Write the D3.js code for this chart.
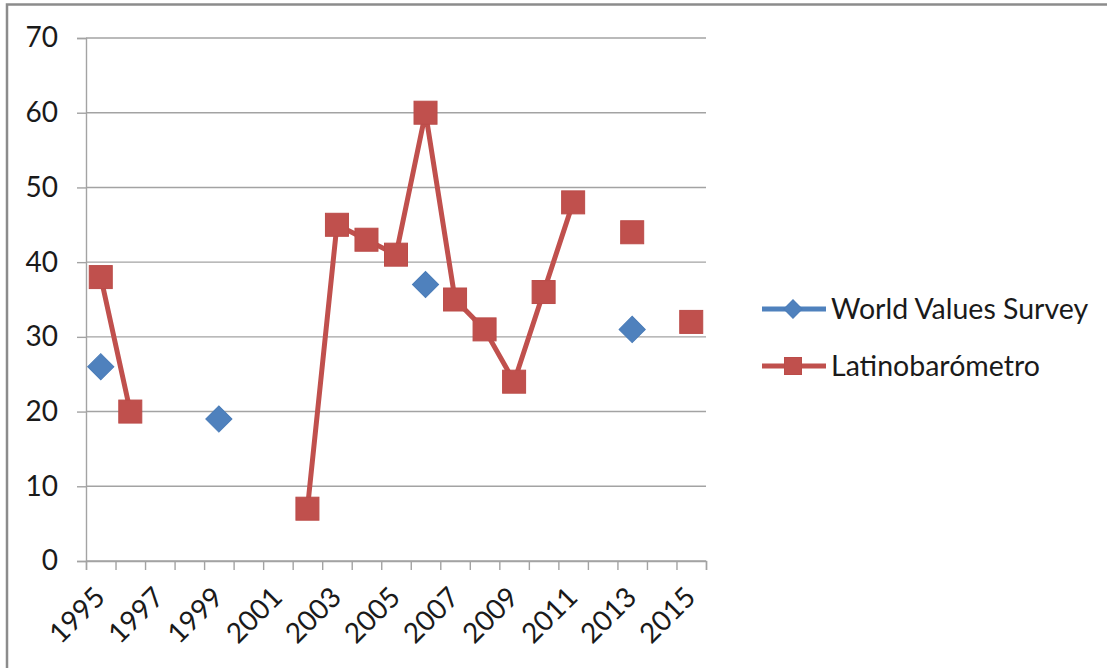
<!DOCTYPE html>
<html>
<head>
<meta charset="utf-8">
<script src="https://cdn.jsdelivr.net/npm/d3@7"></script>
<style>
  html, body { margin: 0; padding: 0; background: #fff; }
  svg { display: block; }
  text { font-family: Lato, "Open Sans", sans-serif; fill: #1a1a1a; }
</style>
</head>
<body>
<svg id="chart" width="1107" height="668"></svg>
<script>
// Survey years on the category axis
const years = d3.range(1995, 2016);
// Share (%) per year; null where no survey was held
const worldValuesSurvey = [26, null, null, null, 19, null, null, null, null, null, null, 37, null, null, null, null, null, null, 31, null, null];
const latinobarometro   = [38, 20, null, null, null, null, null, 7, 45, 43, 41, 60, 35, 31, 24, 36, 48, null, 44, null, 32];
const yTicks = [0, 10, 20, 30, 40, 50, 60, 70];
const seriesNames = ["World Values Survey", "Latinobarómetro"];
const seriesColors = ["#4F81BD", "#C0504D"];

const svg = d3.select("#chart");
const W = 1107, H = 668;
const plot = { left: 86, right: 706, top: 38, bottom: 561 };

// Outer chart frame
svg.append("rect")
  .attr("x", 7).attr("y", 4.5)
  .attr("width", W + 20).attr("height", H + 20)
  .attr("fill", "#fff")
  .attr("stroke", "#8c8c8c").attr("stroke-width", 2.5);

const x = d3.scaleBand().domain(years).range([plot.left, plot.right]).padding(0);
const xc = yr => x(yr) + x.bandwidth() / 2;
const y = d3.scaleLinear().domain([0, 70]).range([plot.bottom, plot.top]);

const gridColor = "#a3a3a3";

// Horizontal gridlines
svg.append("g")
  .selectAll("line")
  .data(yTicks)
  .join("line")
  .attr("x1", plot.left).attr("x2", plot.right)
  .attr("y1", d => y(d)).attr("y2", d => y(d))
  .attr("stroke", gridColor).attr("stroke-width", 1.4);

// Value axis
const yAxis = svg.append("g")
  .attr("transform", `translate(${plot.left},0)`)
  .call(d3.axisLeft(y).tickValues(yTicks).tickSize(9).tickPadding(19));
yAxis.select(".domain").attr("stroke", gridColor).attr("stroke-width", 1.4);
yAxis.selectAll(".tick line").attr("stroke", gridColor).attr("stroke-width", 1.4);
yAxis.selectAll(".tick text")
  .attr("font-family", "Lato, sans-serif").attr("font-size", 28).attr("fill", "#1a1a1a");

// Category axis: tick marks on every category boundary
const xEdges = d3.scaleLinear().domain([0, years.length]).range([plot.left, plot.right]);
const xAxis = svg.append("g")
  .attr("transform", `translate(0,${plot.bottom})`)
  .call(d3.axisBottom(xEdges).tickValues(d3.range(0, years.length + 1)).tickSize(9).tickFormat(""));
xAxis.select(".domain").attr("stroke", gridColor).attr("stroke-width", 1.4);
xAxis.selectAll(".tick line").attr("stroke", gridColor).attr("stroke-width", 1.4);

// Category labels, every second year, slanted
svg.append("g")
  .selectAll("text")
  .data(years.filter((d, i) => i % 2 === 0))
  .join("text")
  .attr("transform", d => `translate(${xc(d) + 6},599) rotate(-45)`)
  .attr("text-anchor", "end")
  .attr("font-size", 28)
  .text(d => d);

// Series lines
const line = d3.line()
  .defined(d => d.v != null)
  .x(d => xc(d.year))
  .y(d => y(d.v));

const seriesData = [worldValuesSurvey, latinobarometro].map(arr =>
  years.map((yr, i) => ({ year: yr, v: arr[i] })));

seriesData.forEach((pts, s) => {
  svg.append("path")
    .datum(pts)
    .attr("fill", "none")
    .attr("stroke", seriesColors[s])
    .attr("stroke-width", 5)
    .attr("stroke-linejoin", "round")
    .attr("d", line);
});

// Markers
const diamond = (g, size) => g.append("rect")
  .attr("x", -size / 2).attr("y", -size / 2)
  .attr("width", size).attr("height", size)
  .attr("transform", "rotate(45)")
  .attr("fill", seriesColors[0]).attr("stroke", "#4a7cb8").attr("stroke-width", 1);
const square = (g, size) => g.append("rect")
  .attr("x", -size / 2).attr("y", -size / 2)
  .attr("width", size).attr("height", size)
  .attr("fill", seriesColors[1]).attr("stroke", "#bb4c49").attr("stroke-width", 1);

seriesData[0].filter(d => d.v != null).forEach(d => {
  diamond(svg.append("g").attr("transform", `translate(${xc(d.year)},${y(d.v)})`), 18.5);
});
seriesData[1].filter(d => d.v != null).forEach(d => {
  square(svg.append("g").attr("transform", `translate(${xc(d.year)},${y(d.v)})`), 23);
});

// Legend
const legend = svg.append("g");
const legendRows = [309, 366];
seriesNames.forEach((name, s) => {
  const g = legend.append("g").attr("transform", `translate(0,${legendRows[s]})`);
  g.append("line")
    .attr("x1", 762).attr("x2", 826).attr("y1", 0).attr("y2", 0)
    .attr("stroke", seriesColors[s]).attr("stroke-width", 5);
  const m = g.append("g").attr("transform", "translate(793,0)");
  if (s === 0) diamond(m, 13); else square(m, 17);
  g.append("text")
    .attr("x", 831).attr("y", 0).attr("dy", "0.36em")
    .attr("font-size", 28.5)
    .text(name);
});
</script>
</body>
</html>
